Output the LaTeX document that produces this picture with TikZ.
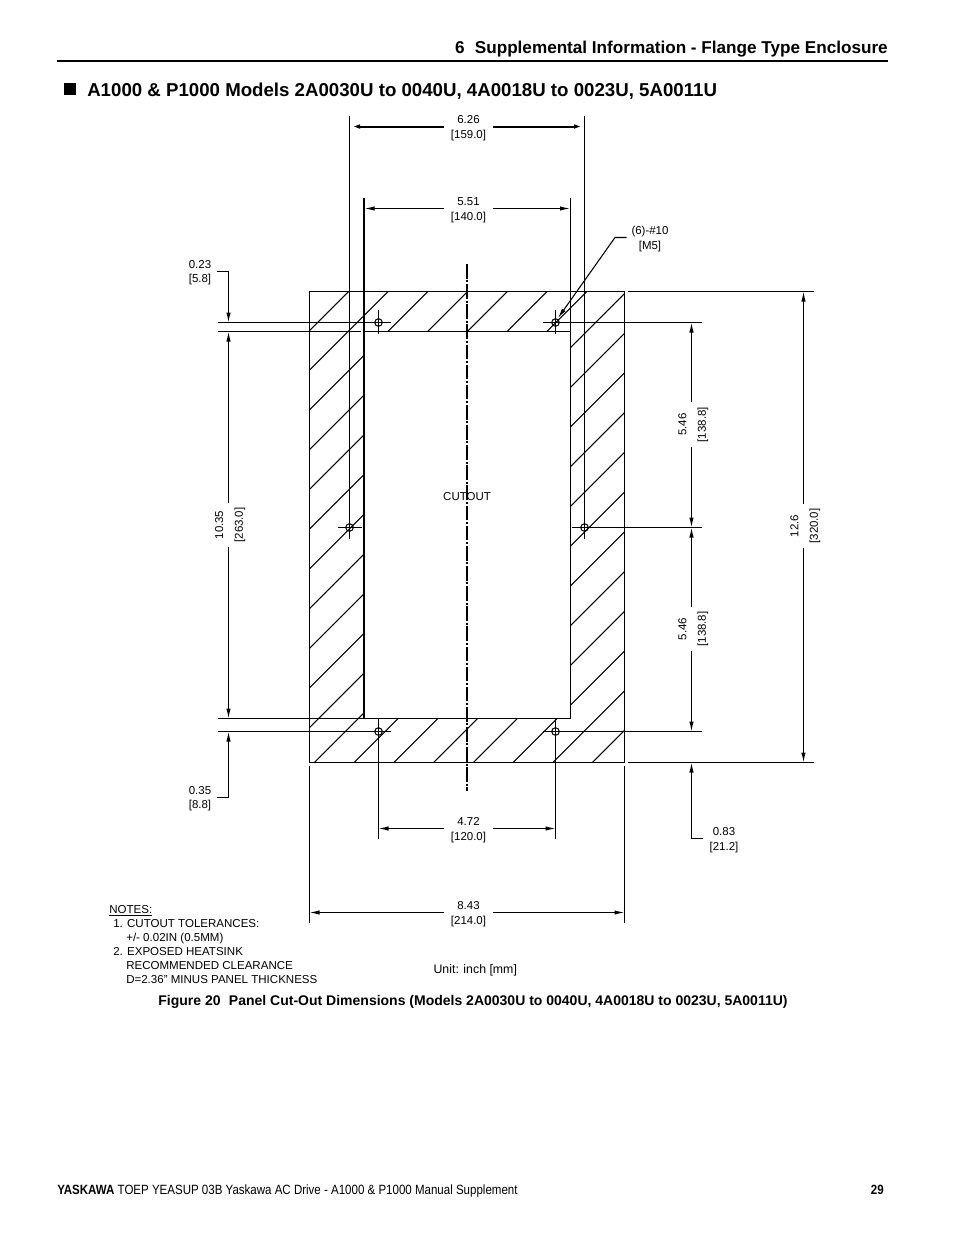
\documentclass[tikz,border=0pt]{standalone}
\usepackage{fontspec}
\setmainfont{Liberation Sans}
\newfontfamily\narrowfont[FakeStretch=0.86]{Liberation Sans}
\usetikzlibrary{arrows.meta}
\tikzset{
	dimtip/.style={-{Latex[length=7.5pt,width=3.3pt]}},
	edgeline/.style={line width=0.8pt},
	thinline/.style={line width=0.8pt},
	dimtext/.style={font=\fontsize{8.6}{11.2}\selectfont,align=center,inner sep=0pt,minimum width=36pt,minimum height=18pt,text height=19.6pt},
	sidetext/.style={font=\fontsize{8.6}{14.7}\selectfont,align=center,inner sep=0pt,minimum width=33pt,text height=23.3pt,rotate=90},
	smalltext/.style={font=\fontsize{8.6}{11.2}\selectfont,align=center,inner sep=0pt},
	notetext/.style={font=\fontsize{8.65}{11}\selectfont,anchor=base west,inner sep=0pt},
	centerline/.style={line width=1.5pt,dash pattern=on 11pt off 1.3pt on 1.5pt off 1.3pt}
}
\begin{document}
\begin{tikzpicture}[x=0.75pt,y=-0.75pt]
		\useasboundingbox (0,0) rectangle (954,1235);
		% Page header, rule and title
		\node [anchor=base east,inner sep=0pt,font=\fontsize{12.85}{14}\selectfont\bfseries] (header) at (888,53) {6\hspace{0.6em}Supplemental Information - Flange Type Enclosure};
		\draw [line width=2.2pt] (57,61) -- (888,61);
		\fill (64,83) rectangle (76,95);
		\node [anchor=base west,inner sep=0pt,font=\fontsize{14}{16}\selectfont\bfseries] (title) at (87,96) {A1000 \& P1000 Models 2A0030U to 0040U, 4A0018U to 0023U, 5A0011U};
		% Hatching of the flange, kept out of the cut-out
		\begin{scope}[even odd rule]
			\clip (309.5,291.5) rectangle (624.5,762.5) (364,331.5) rectangle (570.5,718.5);
			\foreach \k in {0,...,18} {
				\draw [thinline] ({640+39.72*\k-291.5},291.5) -- ({640+39.72*\k-762.5},762.5);
			}
		\end{scope}
		% Flange outline and cut-out
		\draw [edgeline] (309.5,291.5) rectangle (624.5,762.5);
		\draw [edgeline] (570.5,198) -- (570.5,718.5) -- (364,718.5);
		\draw [edgeline] (364,331.5) -- (570.5,331.5);
		\draw [line width=1.5pt] (364,198) -- (364,719);
		\draw [centerline] (467,264) -- (467,791);
		\node [smalltext] (cutout) at (467,496.5) {CUTOUT};
		% Six holes with their centre lines
		\foreach \x/\y in {378.5/322.5,555.5/322.5,349.5/527.5,584.5/527.5,378.5/731.5,555.5/731.5} {
			\draw [thinline] (\x,\y) circle [radius=3.8];
		}
		\draw [edgeline] (218,322.5) -- (391,322.5);
		\draw [edgeline] (218,331.5) -- (360.5,331.5);
		\draw [edgeline] (218,718.5) -- (364,718.5);
		\draw [edgeline] (218,731.5) -- (391,731.5);
		\draw [edgeline] (543,322.5) -- (702,322.5);
		\draw [edgeline] (337.5,527.5) -- (362,527.5);
		\draw [edgeline] (572,527.5) -- (702,527.5);
		\draw [edgeline] (543,731.5) -- (702,731.5);
		\draw [edgeline] (378.5,310) -- (378.5,334);
		\draw [edgeline] (555.5,310) -- (555.5,334);
		\draw [edgeline] (378.5,718) -- (378.5,838.5);
		\draw [edgeline] (555.5,718) -- (555.5,838.5);
		\draw [edgeline] (349.5,116) -- (349.5,539);
		\draw [edgeline] (584.5,116) -- (584.5,539);
		% Extension lines of the outer size
		\draw [edgeline] (628,291.5) -- (814,291.5);
		\draw [edgeline] (628,762.5) -- (814,762.5);
		\draw [edgeline] (309.5,766) -- (309.5,922.5);
		\draw [edgeline] (624.5,766) -- (624.5,922.5);
		% Horizontal sizes
		\node [dimtext] (wideA) at (468.5,126.5) {6.26\\{[159.0]}};
		\draw [dimtip,line width=1.5pt] (wideA) -- (350,126.5);
		\draw [dimtip,line width=1.5pt] (wideA) -- (584,126.5);
		\node [dimtext] (wideB) at (468.5,208.5) {5.51\\{[140.0]}};
		\draw [dimtip,edgeline] (wideB) -- (364.6,208.5);
		\draw [dimtip,edgeline] (wideB) -- (570,208.5);
		\node [dimtext] (wideC) at (468.5,828.5) {4.72\\{[120.0]}};
		\draw [dimtip,edgeline] (wideC) -- (378.5,828.5);
		\draw [dimtip,edgeline] (wideC) -- (555.5,828.5);
		\node [dimtext] (wideD) at (468.5,912.5) {8.43\\{[214.0]}};
		\draw [dimtip,edgeline] (wideD) -- (309.5,912.5);
		\draw [dimtip,edgeline] (wideD) -- (624.5,912.5);
		% Vertical sizes
		\node [sidetext] (highA) at (228.5,525) {10.35\\{[263.0]}};
		\draw [dimtip,edgeline] (highA) -- (228.5,331.5);
		\draw [dimtip,edgeline] (highA) -- (228.5,718.5);
		\node [sidetext] (highB) at (691.5,424.7) {5.46\\{[138.8]}};
		\draw [dimtip,edgeline] (highB) -- (691.5,322.5);
		\draw [dimtip,edgeline] (highB) -- (691.5,527.5);
		\node [sidetext] (highC) at (691.5,629) {5.46\\{[138.8]}};
		\draw [dimtip,edgeline] (highC) -- (691.5,527.5);
		\draw [dimtip,edgeline] (highC) -- (691.5,731.5);
		\node [sidetext] (highD) at (803.5,526) {12.6\\{[320.0]}};
		\draw [dimtip,edgeline] (highD) -- (803.5,291.5);
		\draw [dimtip,edgeline] (highD) -- (803.5,762.5);
		% Small offsets with a bent leader
		\node [smalltext] (offA) at (200,272.7) {0.23\\{[5.8]}};
		\draw [dimtip,edgeline] (217,271.5) -- (228.5,271.5) -- (228.5,322.5);
		\node [smalltext] (offB) at (200,798.7) {0.35\\{[8.8]}};
		\draw [dimtip,edgeline] (217,797.5) -- (228.5,797.5) -- (228.5,731.5);
		\node [smalltext] (offC) at (724,840.3) {0.83\\{[21.2]}};
		\draw [dimtip,edgeline] (702.5,838.5) -- (691.5,838.5) -- (691.5,762.5);
		% Hole callout
		\node [smalltext] (holes) at (650,239) {(6)-\#10\\{[M5]}};
		\draw [dimtip,edgeline] (626.7,237.5) -- (615,237.5) -- (558,318);
		% Notes and unit
		\node [notetext] (notes) at (109,913) {\underline{NOTES:}};
		\node [notetext] (noteA) at (113,927) {1. CUTOUT TOLERANCES:};
		\node [notetext] (noteB) at (126,941) {+/- 0.02IN (0.5MM)};
		\node [notetext] (noteC) at (113,955) {2. EXPOSED HEATSINK};
		\node [notetext] (noteD) at (126,969.5) {RECOMMENDED CLEARANCE};
		\node [notetext] (noteE) at (126,983.5) {D=2.36" MINUS PANEL THICKNESS};
		\node [notetext,font=\fontsize{9.25}{11}\selectfont] (unit) at (433.3,973) {Unit: inch [mm]};
		% Caption and footer
		\node [anchor=base,inner sep=0pt,font=\fontsize{10.5}{12}\selectfont\bfseries] (caption) at (473,1005.5) {Figure 20\hspace{0.6em}Panel Cut-Out Dimensions (Models 2A0030U to 0040U, 4A0018U to 0023U, 5A0011U)};
		\node [anchor=base west,inner sep=0pt,font=\fontsize{10.05}{12}\narrowfont] (footer) at (57,1194) {{\bfseries YASKAWA} TOEP YEASUP 03B Yaskawa AC Drive - A1000 \& P1000 Manual Supplement};
		\node [anchor=base east,inner sep=0pt,font=\fontsize{10.05}{12}\narrowfont\bfseries] (page) at (884,1194) {29};
		\end{tikzpicture}
\end{document}
